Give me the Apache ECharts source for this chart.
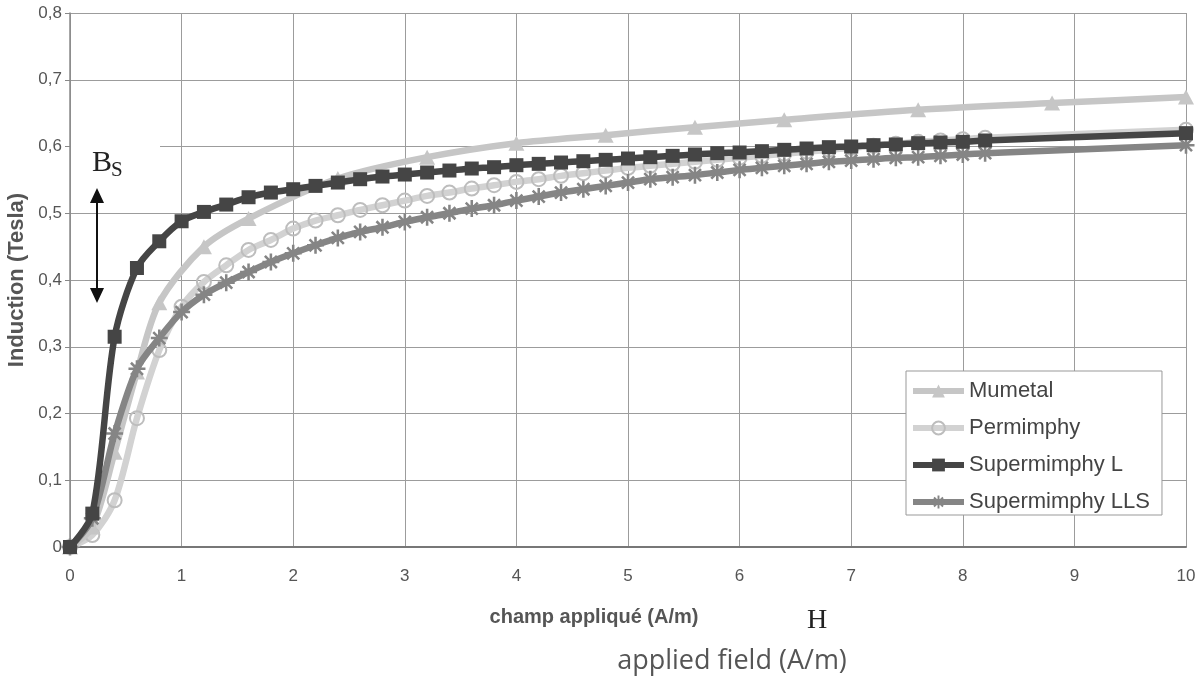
<!DOCTYPE html>
<html>
<head>
<meta charset="utf-8">
<script src="https://cdn.jsdelivr.net/npm/echarts@6/dist/echarts.min.js"></script>
<style>
  html, body { margin: 0; padding: 0; background: #ffffff; }
  #chart { width: 1199px; height: 677px; }
</style>
</head>
<body>
<div id="chart"></div>
<script>
// ---- data ----
const seriesNames = ['Mumetal', 'Permimphy', 'Supermimphy L', 'Supermimphy LLS'];

const mumetalH = [0, 0.2, 0.4, 0.6, 0.8, 1.2, 1.6, 2.4, 3.2, 4.0, 4.8, 5.6, 6.4, 7.6, 8.8, 10];
const mumetalB = [0, 0.03, 0.142, 0.262, 0.366, 0.45, 0.492, 0.552, 0.584, 0.605, 0.617, 0.629, 0.64, 0.655, 0.665, 0.674];

const fieldH = [0, 0.2, 0.4, 0.6, 0.8, 1.0, 1.2, 1.4, 1.6, 1.8, 2.0, 2.2, 2.4, 2.6, 2.8, 3.0, 3.2, 3.4, 3.6, 3.8,
                4.0, 4.2, 4.4, 4.6, 4.8, 5.0, 5.2, 5.4, 5.6, 5.8, 6.0, 6.2, 6.4, 6.6, 6.8, 7.0, 7.2, 7.4, 7.6, 7.8,
                8.0, 8.2, 10];
const permimphyB = [0, 0.018, 0.07, 0.193, 0.295, 0.36, 0.397, 0.422, 0.445, 0.46, 0.477, 0.489, 0.497, 0.505, 0.512, 0.519, 0.526, 0.531, 0.537, 0.542,
                    0.547, 0.551, 0.556, 0.56, 0.564, 0.568, 0.571, 0.574, 0.577, 0.58, 0.583, 0.586, 0.589, 0.592, 0.595, 0.598, 0.601, 0.604, 0.607, 0.609,
                    0.611, 0.613, 0.625];
const supermimphyLB = [0, 0.05, 0.315, 0.418, 0.458, 0.488, 0.502, 0.513, 0.524, 0.531, 0.536, 0.541, 0.546, 0.551, 0.555, 0.558, 0.561, 0.564, 0.567, 0.569,
                       0.572, 0.574, 0.576, 0.578, 0.58, 0.582, 0.584, 0.586, 0.588, 0.59, 0.591, 0.593, 0.595, 0.597, 0.599, 0.6, 0.602, 0.603, 0.605, 0.606,
                       0.607, 0.609, 0.62];
const supermimphyLLSB = [0, 0.043, 0.17, 0.267, 0.313, 0.352, 0.378, 0.396, 0.412, 0.427, 0.44, 0.452, 0.463, 0.472, 0.479, 0.487, 0.494, 0.5, 0.507, 0.512,
                         0.519, 0.525, 0.531, 0.536, 0.541, 0.546, 0.551, 0.554, 0.557, 0.561, 0.565, 0.568, 0.571, 0.574, 0.577, 0.579, 0.581, 0.583, 0.584, 0.586,
                         0.588, 0.59, 0.602];

const xTickLabels = ['0', '1', '2', '3', '4', '5', '6', '7', '8', '9', '10'];
const yTickLabels = ['0', '0,1', '0,2', '0,3', '0,4', '0,5', '0,6', '0,7', '0,8'];

const xAxisTitle = 'champ appliqué (A/m)';
const yAxisTitle = 'Induction (Tesla)';
const englishTitle = 'applied field (A/m)';

// ---- build ----
const pairs = (xs, ys) => xs.map((x, i) => [x, ys[i]]);
const starPath = 'path://M-1.5,-10L1.5,-10L1.5,10L-1.5,10Z' +
  'M6.01,-8.13L8.13,-6.01L-6.01,8.13L-8.13,6.01Z' +
  'M-8.13,-6.01L-6.01,-8.13L8.13,6.01L6.01,8.13Z' +
  'M-10,-1.5L10,-1.5L10,1.5L-10,1.5Z';

const font = 'Liberation Sans, Arial, sans-serif';
const LW = 6.5;
const chart = echarts.init(document.getElementById('chart'), null, { renderer: 'canvas' });

chart.setOption({
  animation: false,
  backgroundColor: '#ffffff',
  grid: { left: 70, right: 13, top: 13, bottom: 130, containLabel: false, outerBoundsMode: 'none' },
  xAxis: {
    type: 'value', min: 0, max: 10, interval: 1,
    axisLine: { show: true, onZero: false, lineStyle: { color: '#777', width: 2 } },
    axisTick: { show: false },
    splitLine: { show: true, lineStyle: { color: '#9c9c9c', width: 1 } },
    axisLabel: {
      margin: 21, color: '#555', fontFamily: font, fontSize: 17,
      formatter: v => xTickLabels[Math.round(v)]
    }
  },
  yAxis: {
    type: 'value', min: 0, max: 0.8, interval: 0.1,
    name: yAxisTitle, nameLocation: 'middle', nameGap: 40,
    nameTextStyle: { color: '#555', fontFamily: font, fontSize: 22, fontWeight: 'bold' },
    axisLine: { show: true, lineStyle: { color: '#888', width: 1.5 } },
    axisTick: { show: true, inside: false, length: 5, lineStyle: { color: '#888' } },
    splitLine: { show: true, lineStyle: { color: '#9c9c9c', width: 1 } },
    axisLabel: {
      margin: 8, color: '#555', fontFamily: font, fontSize: 17,
      formatter: v => yTickLabels[Math.round(v * 10)]
    }
  },
  legend: {
    orient: 'vertical', left: 906, top: 371,
    data: seriesNames,
    backgroundColor: '#ffffff', borderColor: '#999', borderWidth: 1,
    padding: [9, 12, 2, 4],
    itemWidth: 51, itemHeight: 16, itemGap: 15,
    lineStyle: { width: 6 },
    textStyle: { color: '#444', fontFamily: font, fontSize: 22 }
  },
  series: [
    {
      name: 'Permimphy', type: 'line', z: 2,
      data: pairs(fieldH, permimphyB),
      smooth: 0.3,
      symbol: 'circle', symbolSize: 14,
      lineStyle: { color: '#d2d2d2', width: LW },
      itemStyle: { color: 'rgba(255,255,255,0)', borderColor: '#bdbdbd', borderWidth: 2 }
    },
    {
      name: 'Mumetal', type: 'line', z: 3,
      data: pairs(mumetalH, mumetalB),
      smooth: 0.3,
      symbol: 'triangle', symbolSize: [16, 15],
      lineStyle: { color: '#c6c6c6', width: LW },
      itemStyle: { color: '#c6c6c6' }
    },
    {
      name: 'Supermimphy LLS', type: 'line', z: 4,
      data: pairs(fieldH, supermimphyLLSB),
      smooth: 0.3,
      symbol: starPath, symbolSize: 17,
      lineStyle: { color: '#858585', width: LW },
      itemStyle: { color: '#858585' }
    },
    {
      name: 'Supermimphy L', type: 'line', z: 5,
      data: pairs(fieldH, supermimphyLB),
      smooth: 0.3,
      symbol: 'rect', symbolSize: 14,
      lineStyle: { color: '#454545', width: LW },
      itemStyle: { color: '#454545' }
    }
  ],
  graphic: [
    { type: 'rect', z: 100, shape: { x: 71, y: 143, width: 89, height: 7 }, style: { fill: '#ffffff' } },
    { type: 'text', z: 101, x: 92, y: 163, style: { text: 'B', font: '30px "Liberation Serif", serif', fill: '#222', textVerticalAlign: 'middle' } },
    { type: 'text', z: 101, x: 111, y: 170, style: { text: 'S', font: '21px "Liberation Serif", serif', fill: '#222', textVerticalAlign: 'middle' } },
    { type: 'line', z: 101, shape: { x1: 97, y1: 200, x2: 97, y2: 291 }, style: { stroke: '#111', lineWidth: 2 } },
    { type: 'polygon', z: 101, shape: { points: [[97, 188], [90, 203], [104, 203]] }, style: { fill: '#111' } },
    { type: 'polygon', z: 101, shape: { points: [[97, 303], [90, 288], [104, 288]] }, style: { fill: '#111' } },
    { type: 'text', z: 101, x: 594, y: 617, style: { text: xAxisTitle, font: 'bold 20px "Liberation Sans", Arial, sans-serif', fill: '#555', textAlign: 'center', textVerticalAlign: 'middle' } },
    { type: 'text', z: 101, x: 817, y: 621, style: { text: 'H', font: '28px "Liberation Serif", serif', fill: '#222', textAlign: 'center', textVerticalAlign: 'middle' } },
    { type: 'text', z: 101, x: 732, y: 661, style: { text: englishTitle, font: '27px "Open Sans", sans-serif', fill: '#555', textAlign: 'center', textVerticalAlign: 'middle' } }
  ]
});
</script>
</body>
</html>
